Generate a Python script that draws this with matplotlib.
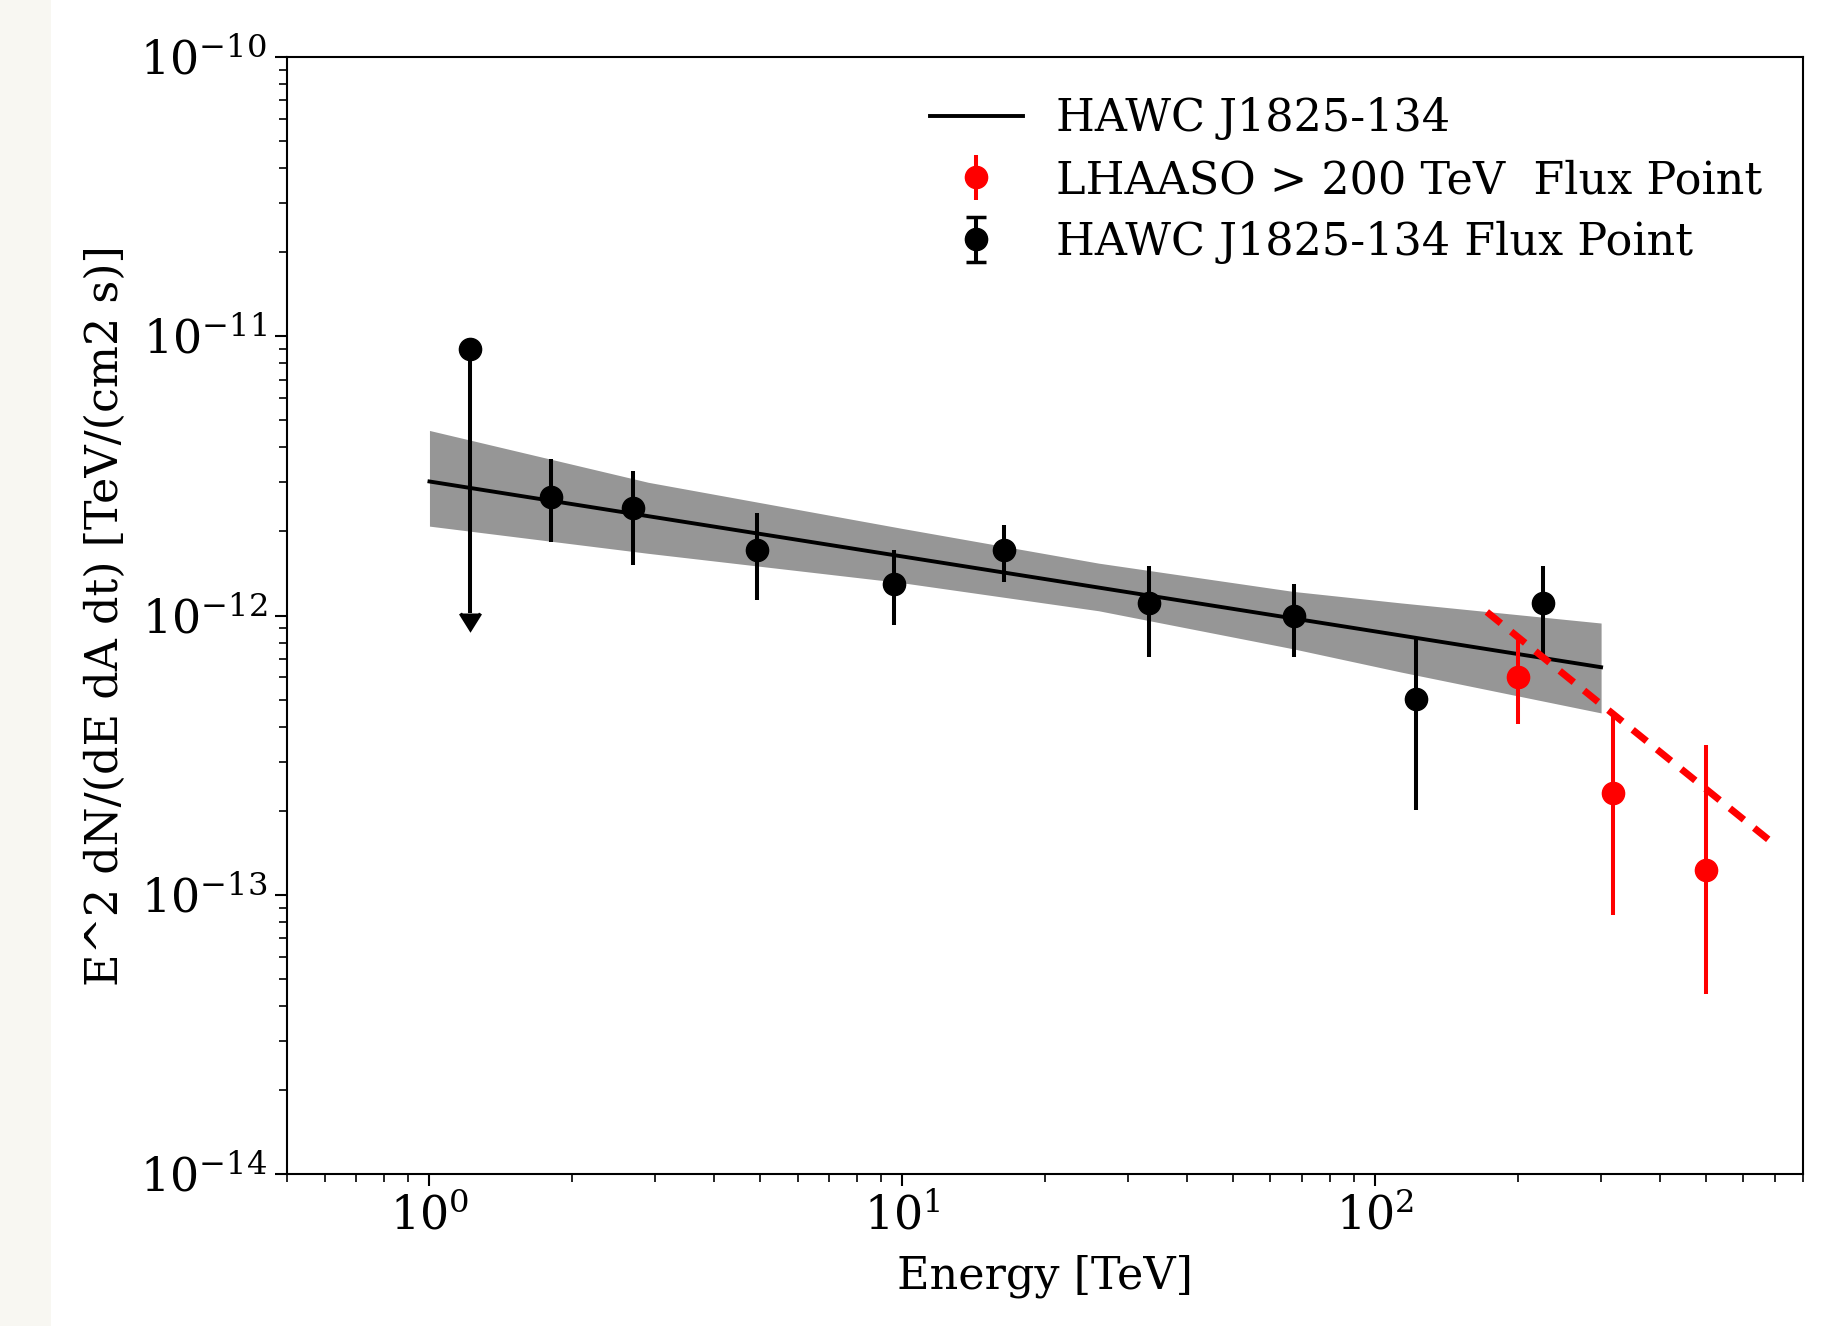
import numpy as np
import matplotlib
matplotlib.use("Agg")
import matplotlib.pyplot as plt
from matplotlib.patches import Rectangle

plt.rcParams["font.family"] = "DejaVu Serif"
plt.rcParams["mathtext.fontset"] = "dejavuserif"
plt.rcParams["lines.markersize"] = 15  # used for the limit arrow and legend caps

# HAWC J1825-134 power-law fit (endpoints) and its uncertainty band
fit_E = [1.0, 300.0]
fit_flux = [3.02e-12, 6.53e-13]

band_E = [1.0, 2.9, 10.0, 26.0, 67.0, 113.0, 300.0]
band_hi = [4.6e-12, 3.0e-12, 2.05e-12, 1.54e-12, 1.22e-12, 1.11e-12, 9.4e-13]
band_lo = [2.09e-12, 1.67e-12, 1.31e-12, 1.04e-12, 7.6e-13, 6.28e-13, 4.48e-13]

# HAWC flux points (first one is an upper limit)
hawc_E = [1.216, 1.81, 2.70, 4.92, 9.58, 16.4, 33.2, 67.3, 121.6, 226.0]
hawc_flux = [9.04e-12, 2.66e-12, 2.42e-12, 1.72e-12, 1.30e-12, 1.72e-12, 1.11e-12, 1.00e-12, 5.02e-13, 1.11e-12]
hawc_lo = [1.02e-12, 1.84e-12, 1.52e-12, 1.135e-12, 9.25e-13, 1.32e-12, 7.13e-13, 7.13e-13, 2.02e-13, 6.98e-13]
hawc_hi = [9.04e-12, 3.63e-12, 3.30e-12, 2.32e-12, 1.72e-12, 2.11e-12, 1.50e-12, 1.30e-12, 8.24e-13, 1.50e-12]
hawc_ul = [True, False, False, False, False, False, False, False, False, False]

# LHAASO > 200 TeV points
lhaaso_E = [200.0, 317.6, 500.0]
lhaaso_flux = [6.04e-13, 2.31e-13, 1.23e-13]
lhaaso_lo = [4.10e-13, 8.44e-14, 4.41e-14]
lhaaso_hi = [8.48e-13, 4.38e-13, 3.44e-13]

# red dashed extrapolation
ext_E = [172.0, 708.0]
ext_flux = [1.03e-12, 1.485e-13]

fig = plt.figure(figsize=(18.45, 13.26), dpi=100)
fig.patches.append(Rectangle((0, 0), 51 / 1845, 1, transform=fig.transFigure,
                             facecolor="#f8f7f2", edgecolor="none", zorder=0))
ax = fig.add_axes([0.1556, 0.1146, 0.977 - 0.1556, 0.957 - 0.1146])

ax.fill_between(band_E, band_lo, band_hi, color="#969696", lw=0, zorder=1)
ax.plot(fit_E, fit_flux, color="black", lw=2.8, label="HAWC J1825-134", zorder=2)

hf = np.array(hawc_flux)
h_err = [hf - np.array(hawc_lo), np.array(hawc_hi) - hf]
lf = np.array(lhaaso_flux)
l_err = [lf - np.array(lhaaso_lo), np.array(lhaaso_hi) - lf]

ax.errorbar(lhaaso_E, lhaaso_flux, yerr=l_err, fmt="o", color="red", ms=16,
            elinewidth=2.9, capsize=0, label="LHAASO > 200 TeV  Flux Point", zorder=3)
ax.errorbar(hawc_E, hawc_flux, yerr=h_err, uplims=hawc_ul, fmt="o", color="black", ms=16,
            elinewidth=2.9, capsize=0, capthick=2.5, label="HAWC J1825-134 Flux Point", zorder=3)
ax.plot(ext_E, ext_flux, color="red", lw=5, dashes=(2.6, 1.9), zorder=4)

ax.set_xscale("log")
ax.set_yscale("log")
ax.set_xlim(0.5, 800)
ax.set_ylim(1e-14, 1e-10)

ax.set_xlabel("Energy [TeV]", fontsize=32, labelpad=11)
ax.set_ylabel("E^2 dN/(dE dA dt) [TeV/(cm2 s)]", fontsize=32, labelpad=9)
ax.tick_params(which="major", length=8.5, width=1.5, labelsize=33, pad=6)
ax.tick_params(which="minor", length=5.5, width=1.2)
for s in ax.spines.values():
    s.set_linewidth(1.5)

ax.legend(loc="upper right", frameon=False, fontsize=32, handlelength=2.1,
          handletextpad=0.75, labelspacing=0.42, borderaxespad=0.5)

fig.savefig("out.png", dpi=100)
